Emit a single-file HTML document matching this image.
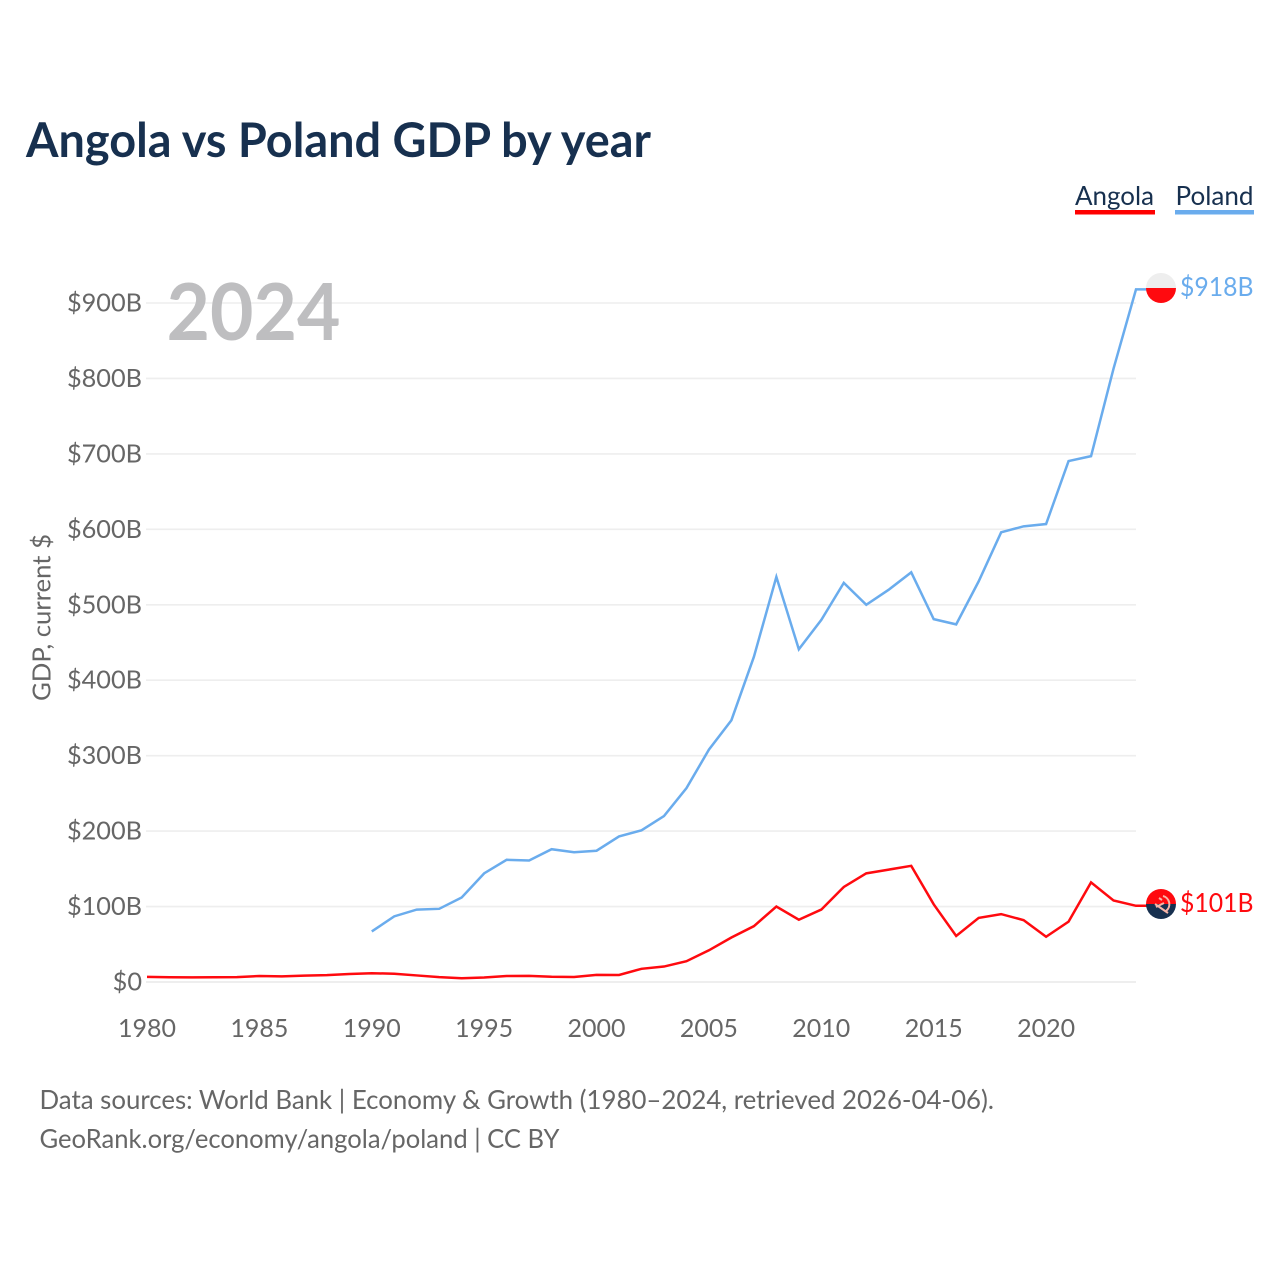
<!DOCTYPE html>
<html lang="en">
<head>
<meta charset="utf-8">
<title>Angola vs Poland GDP by year</title>
<style>
  html, body { margin: 0; padding: 0; background: #fff; }
  #chart { display: block; width: 1280px; height: 1280px; font-family: "Lato", "Carlito", "Liberation Sans", sans-serif; }
</style>
</head>
<body>
<svg id="chart" xmlns="http://www.w3.org/2000/svg" width="1280" height="1280" viewBox="0 0 1280 1280">
  <rect x="0" y="0" width="1280" height="1280" fill="#ffffff"/>
  <text x="26" y="157" font-size="48" font-weight="700" fill="#17304f" textLength="625" lengthAdjust="spacingAndGlyphs">Angola vs Poland GDP by year</text>

  <g>
    <g>
      <text x="1075" y="205" font-size="26.5" fill="#17304f" textLength="79" lengthAdjust="spacingAndGlyphs">Angola</text>
      <rect x="1075" y="210" width="80" height="4.5" fill="#ff0000"/>
    </g>
    <g>
      <text x="1175.5" y="205" font-size="26.5" fill="#17304f" textLength="78" lengthAdjust="spacingAndGlyphs">Poland</text>
      <rect x="1175" y="210" width="79" height="4.5" fill="#6aaced"/>
    </g>
  </g>

  <g id="grid"></g>
  <text x="166.5" y="340" font-size="79" font-weight="700" fill="#babbbd" fill-opacity="0.95" textLength="174" lengthAdjust="spacingAndGlyphs">2024</text>
  <g id="ylabels"></g>
  <g id="xlabels"></g>
  <text transform="translate(50.5,701) rotate(-90)" x="0" y="0" font-size="25.5" fill="#666666" textLength="167" lengthAdjust="spacingAndGlyphs">GDP, current $</text>

  <g id="lines"></g>

  <defs>
    <clipPath id="flag-clip-poland"><circle id="clip-poland" cx="1161" cy="288" r="15"/></clipPath>
    <clipPath id="flag-clip-angola"><circle id="clip-angola" cx="1161" cy="904" r="15"/></clipPath>
  </defs>
  <g id="flag-poland">
    <g clip-path="url(#flag-clip-poland)">
      <rect x="1146" y="273" width="30" height="15" fill="#eeeeee"/>
      <rect x="1146" y="288" width="30" height="15" fill="#ff0a0f"/>
    </g>
  </g>
  <g id="flag-angola">
    <g clip-path="url(#flag-clip-angola)">
      <rect x="1146" y="889" width="30" height="15" fill="#ff0a0f"/>
      <rect x="1146" y="904" width="30" height="15" fill="#17304f"/>
      <path d="M1163 896 A8.5 8.5 0 0 1 1166 911 M1155 904 L1168 913 M1156 907 L1164 903 M1159 898 L1162 900" fill="none" stroke="#f7b5a8" stroke-width="2"/>
    </g>
  </g>
  <text id="end-poland" x="1180" y="296" font-size="26.5" fill="#6aaced" textLength="73.5" lengthAdjust="spacingAndGlyphs"></text>
  <text id="end-angola" x="1180" y="912" font-size="26.5" fill="#ff0a0f" textLength="73.5" lengthAdjust="spacingAndGlyphs"></text>

  <text x="39.5" y="1109" font-size="26" fill="#666666" textLength="954.5" lengthAdjust="spacingAndGlyphs">Data sources: World Bank | Economy &amp; Growth (1980–2024, retrieved 2026-04-06).</text>
  <text x="39.5" y="1148" font-size="26" fill="#666666" textLength="520" lengthAdjust="spacingAndGlyphs">GeoRank.org/economy/angola/poland | CC BY</text>
</svg>
<script>
const yearStart = 1980;
const yearEnd = 2024;
const yTicks = [0, 100, 200, 300, 400, 500, 600, 700, 800, 900];
const xTicks = [1980, 1985, 1990, 1995, 2000, 2005, 2010, 2015, 2020];
const angolaYears = [1980,1981,1982,1983,1984,1985,1986,1987,1988,1989,1990,1991,1992,1993,1994,1995,1996,1997,1998,1999,2000,2001,2002,2003,2004,2005,2006,2007,2008,2009,2010,2011,2012,2013,2014,2015,2016,2017,2018,2019,2020,2021,2022,2023,2024];
const angolaValues = [6.8,6.3,6.2,6.3,6.5,7.9,7.5,8.4,9.1,10.6,11.6,11,8.7,6.4,4.9,5.9,7.9,8.1,6.9,6.6,9.5,9.3,17.5,20.5,27.5,42,59,74,100,82.5,96,126,144,149,154,103,61,85,90,82,60,80,132,108,101];
const polandYears = [1990,1991,1992,1993,1994,1995,1996,1997,1998,1999,2000,2001,2002,2003,2004,2005,2006,2007,2008,2009,2010,2011,2012,2013,2014,2015,2016,2017,2018,2019,2020,2021,2022,2023,2024];
const polandValues = [67,87,96,97,112,144,162,161,176,172,174,193,201,220,257,308,347,431,537,441,480,529,500,520,543,481,474,531,596,604,607,690.5,697,813,918];

const NS = 'http://www.w3.org/2000/svg';
const plotLeft = 147, plotRight = 1136, plotZero = 982, pxPerUnit = 679 / 900, flagX = 1161;
function xScale(year) { return plotLeft + (year - yearStart) * (plotRight - plotLeft) / (yearEnd - yearStart); }
function yScale(v) { return plotZero - v * pxPerUnit; }
function money(v) { return v === 0 ? '$0' : '$' + Math.round(v) + 'B'; }
function make(tag, attrs, text) {
  const el = document.createElementNS(NS, tag);
  Object.keys(attrs).forEach(function (k) { el.setAttribute(k, attrs[k]); });
  if (text !== undefined) el.textContent = text;
  return el;
}

const grid = document.getElementById('grid');
const ylabels = document.getElementById('ylabels');
yTicks.forEach(function (t) {
  const line = make('line', { x1: plotLeft - 1, x2: plotRight, y1: yScale(t), y2: yScale(t), stroke: '#eeeeee', 'stroke-width': t === 0 ? 2 : 1.6 });
  
  
  grid.appendChild(line);
  const label = make('text', { x: 142, y: yScale(t) + 8.5, 'text-anchor': 'end', 'font-size': 25.3, fill: '#666666' }, money(t));
  
  
  ylabels.appendChild(label);
});

const xlabels = document.getElementById('xlabels');
xTicks.forEach(function (t) {
  const label = make('text', { x: xScale(t), y: 1037, 'text-anchor': 'middle', 'font-size': 25, fill: '#666666' }, String(t));
  
  
  xlabels.appendChild(label);
});

function pointsFor(years, values) {
  const pts = years.map(function (y, i) { return xScale(y).toFixed(2) + ',' + yScale(values[i]).toFixed(2); });
  pts.push(flagX + ',' + yScale(values[values.length - 1]).toFixed(2));
  return pts.join(' ');
}
const lines = document.getElementById('lines');
const polandLine = make('polyline', { points: pointsFor(polandYears, polandValues), fill: 'none', stroke: '#6aaced', 'stroke-width': 2.5, 'stroke-linejoin': 'miter' });


lines.appendChild(polandLine);
const angolaLine = make('polyline', { points: pointsFor(angolaYears, angolaValues), fill: 'none', stroke: '#ff0a0f', 'stroke-width': 2.5, 'stroke-linejoin': 'miter' });


lines.appendChild(angolaLine);

const polandLast = polandValues[polandValues.length - 1];
const angolaLast = angolaValues[angolaValues.length - 1];
document.getElementById('end-poland').textContent = money(polandLast);
document.getElementById('end-angola').textContent = money(angolaLast);
</script>
</body>
</html>
